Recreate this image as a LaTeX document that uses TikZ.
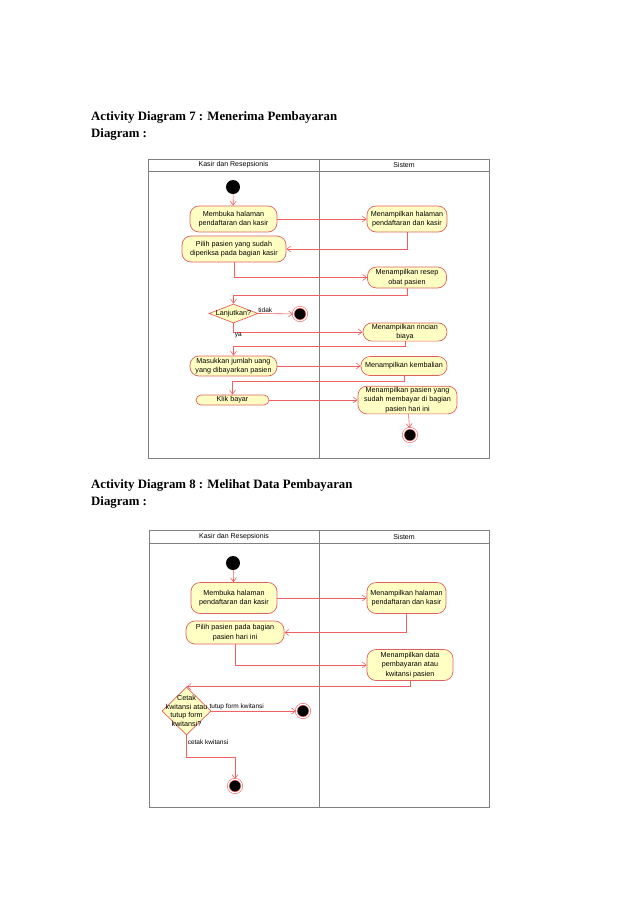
\documentclass[tikz,border=0pt]{standalone}
\usepackage{fontspec}
\setmainfont{Liberation Serif}
\setsansfont{Liberation Sans}
\usetikzlibrary{shapes.geometric, arrows.meta}

\definecolor{actfill}{HTML}{FFFFC4}
\definecolor{actline}{HTML}{E06060}
\definecolor{flowred}{HTML}{F06060}
\definecolor{laneline}{HTML}{808080}

\tikzset{
    action/.style={draw=actline, fill=actfill, rounded corners=9pt, align=center,
        inner sep=1pt, line width=0.7pt, font=\sffamily\fontsize{7.2}{9.5}\selectfont},
    decision/.style={diamond, draw=actline, fill=actfill, inner sep=0pt, line width=0.7pt},
    dectext/.style={align=center, font=\sffamily\fontsize{7.2}{8.6}\selectfont},
    startdot/.style={circle, fill=black, minimum size=14pt, inner sep=0pt},
    stopdot/.style={circle, fill=black, draw=flowred, double=white, double distance=1.2pt,
        line width=0.6pt, minimum size=13.5pt, inner sep=0pt},
    flow/.style={-{Straight Barb[length=4pt, width=6pt]}, draw=flowred, line width=0.6pt},
    guard/.style={font=\sffamily\fontsize{6.5}{8}\selectfont, inner sep=1pt},
    lane/.style={draw=laneline, line width=0.7pt},
    lanehead/.style={font=\sffamily\fontsize{7}{8}\selectfont}
}

\begin{document}
\begin{tikzpicture}[x=1pt, y=-1pt]
    \useasboundingbox (0,0) rectangle (638,903);

    % Titles
    \node[anchor=base west, inner sep=0pt, font=\fontsize{12.8}{15}\selectfont\bfseries] (title7) at (91,120) {Activity Diagram 7 : Menerima Pembayaran};
    \node[anchor=base west, inner sep=0pt, font=\fontsize{12.8}{15}\selectfont\bfseries] (sub7) at (91,137) {Diagram :};
    \node[anchor=base west, inner sep=0pt, font=\fontsize{12.8}{15}\selectfont\bfseries] (title8) at (91,488) {Activity Diagram 8 : Melihat Data Pembayaran};
    \node[anchor=base west, inner sep=0pt, font=\fontsize{12.8}{15}\selectfont\bfseries] (sub8) at (91,505) {Diagram :};

    % Swimlanes - diagram 7
    \draw[lane] (148,159) rectangle (489,458);
    \draw[lane] (148,171) -- (489,171);
    \draw[lane] (319,159) -- (319,458);
    \node[lanehead] (kasir7) at (233.5,165) {Kasir dan Resepsionis};
    \node[lanehead] (sistem7) at (404,165) {Sistem};

    % Activities - diagram 7
    \node[startdot] (mulai7) at (233,187) {};
    \node[action, minimum width=87pt, minimum height=26pt] (buka7) at (233.5,219) {Membuka halaman\\pendaftaran dan kasir};
    \node[action, minimum width=80pt, minimum height=26pt] (tampil7) at (407,219) {Menampilkan halaman\\pendaftaran dan kasir};
    \node[action, minimum width=104pt, minimum height=26pt] (pilih7) at (234,249) {Pilih pasien yang sudah\\diperiksa pada bagian kasir};
    \node[action, minimum width=79pt, minimum height=21pt] (resep) at (407,277.5) {Menampilkan resep\\obat pasien};
    \node[decision, minimum width=49pt, minimum height=19pt, label={[dectext]center:Lanjutkan?}] (lanjut) at (233.5,313.5) {};
    \node[stopdot] (selesai7a) at (300,314) {};
    \node[action, minimum width=84pt, minimum height=17pt] (rincian) at (405,332) {Menampilkan rincian\\biaya};
    \node[action, minimum width=87pt, minimum height=20pt] (masuk) at (233.5,366) {Masukkan jumlah uang\\yang dibayarkan pasien};
    \node[action, minimum width=86pt, minimum height=19pt] (kembali) at (404,366) {Menampilkan kembalian};
    \node[action, minimum width=73pt, minimum height=10pt, rounded corners=5pt] (bayar) at (232.5,400) {Klik bayar};
    \node[action, minimum width=99pt, minimum height=27pt] (sudah) at (407.5,400) {Menampilkan pasien yang\\sudah membayar di bagian\\pasien hari ini};
    \node[stopdot] (selesai7b) at (410,435) {};

    % Connections - diagram 7
    \draw[flow] (mulai7) -- (buka7);
    \draw[flow] (buka7) -- (tampil7);
    \draw[flow] (tampil7.south) |- (pilih7.east);
    \draw[flow] (pilih7.south) |- (resep.west);
    \draw[flow] (resep.south) -- ++(0,7) -| (lanjut.north);
    \draw[flow] (lanjut.east) -- node[guard, above, pos=0.2] {tidak} (selesai7a);
    \draw[flow] (lanjut.south) |- node[guard, below right, pos=0.5] {ya} (rincian.west);
    \draw[flow] (rincian.south) -- ++(0,5) -| (masuk.north);
    \draw[flow] (masuk) -- (kembali);
    \draw[flow] (kembali.south) -- ++(0,5) -| (bayar.north);
    \draw[flow] (bayar) -- (sudah);
    \draw[flow] (sudah) -- (selesai7b);

    % Swimlanes - diagram 8
    \draw[lane] (149,530) rectangle (489,807);
    \draw[lane] (149,543) -- (489,543);
    \draw[lane] (319,530) -- (319,807);
    \node[lanehead] (kasir8) at (234,536.5) {Kasir dan Resepsionis};
    \node[lanehead] (sistem8) at (404,536.5) {Sistem};

    % Activities - diagram 8
    \node[startdot] (mulai8) at (233,563) {};
    \node[action, minimum width=86pt, minimum height=31pt] (buka8) at (234,598) {Membuka halaman\\pendaftaran dan kasir};
    \node[action, minimum width=79pt, minimum height=31pt] (tampil8) at (406.5,598) {Menampilkan halaman\\pendaftaran dan kasir};
    \node[action, minimum width=98pt, minimum height=23pt] (pilih8) at (235,632.5) {Pilih pasien pada bagian\\pasien hari ini};
    \node[action, minimum width=86pt, minimum height=31pt] (data) at (410,665) {Menampilkan data\\pembayaran atau\\kwitansi pasien};
    \node[decision, minimum width=49pt, minimum height=48pt,
        label={[dectext]center:{Cetak\\kwitansi atau\\tutup form\\kwitansi?}}] (cetak) at (186.5,711) {};
    \node[stopdot] (selesai8a) at (303,711) {};
    \node[stopdot] (selesai8b) at (235,786) {};

    % Connections - diagram 8
    \draw[flow] (mulai8) -- (buka8);
    \draw[flow] (buka8) -- (tampil8);
    \draw[flow] (tampil8.south) |- (pilih8.east);
    \draw[flow] (pilih8.south) |- (data.west);
    \draw[flow] (data.south) |- (cetak.north);
    \draw[flow] (cetak.east) -- node[guard, above, pos=0.3] {tutup form kwitansi} (selesai8a);
    \draw[flow] (cetak.south) -- node[guard, right, pos=0.3] {cetak kwitansi} ++(0,22) -| (selesai8b.north);
\end{tikzpicture}
\end{document}
